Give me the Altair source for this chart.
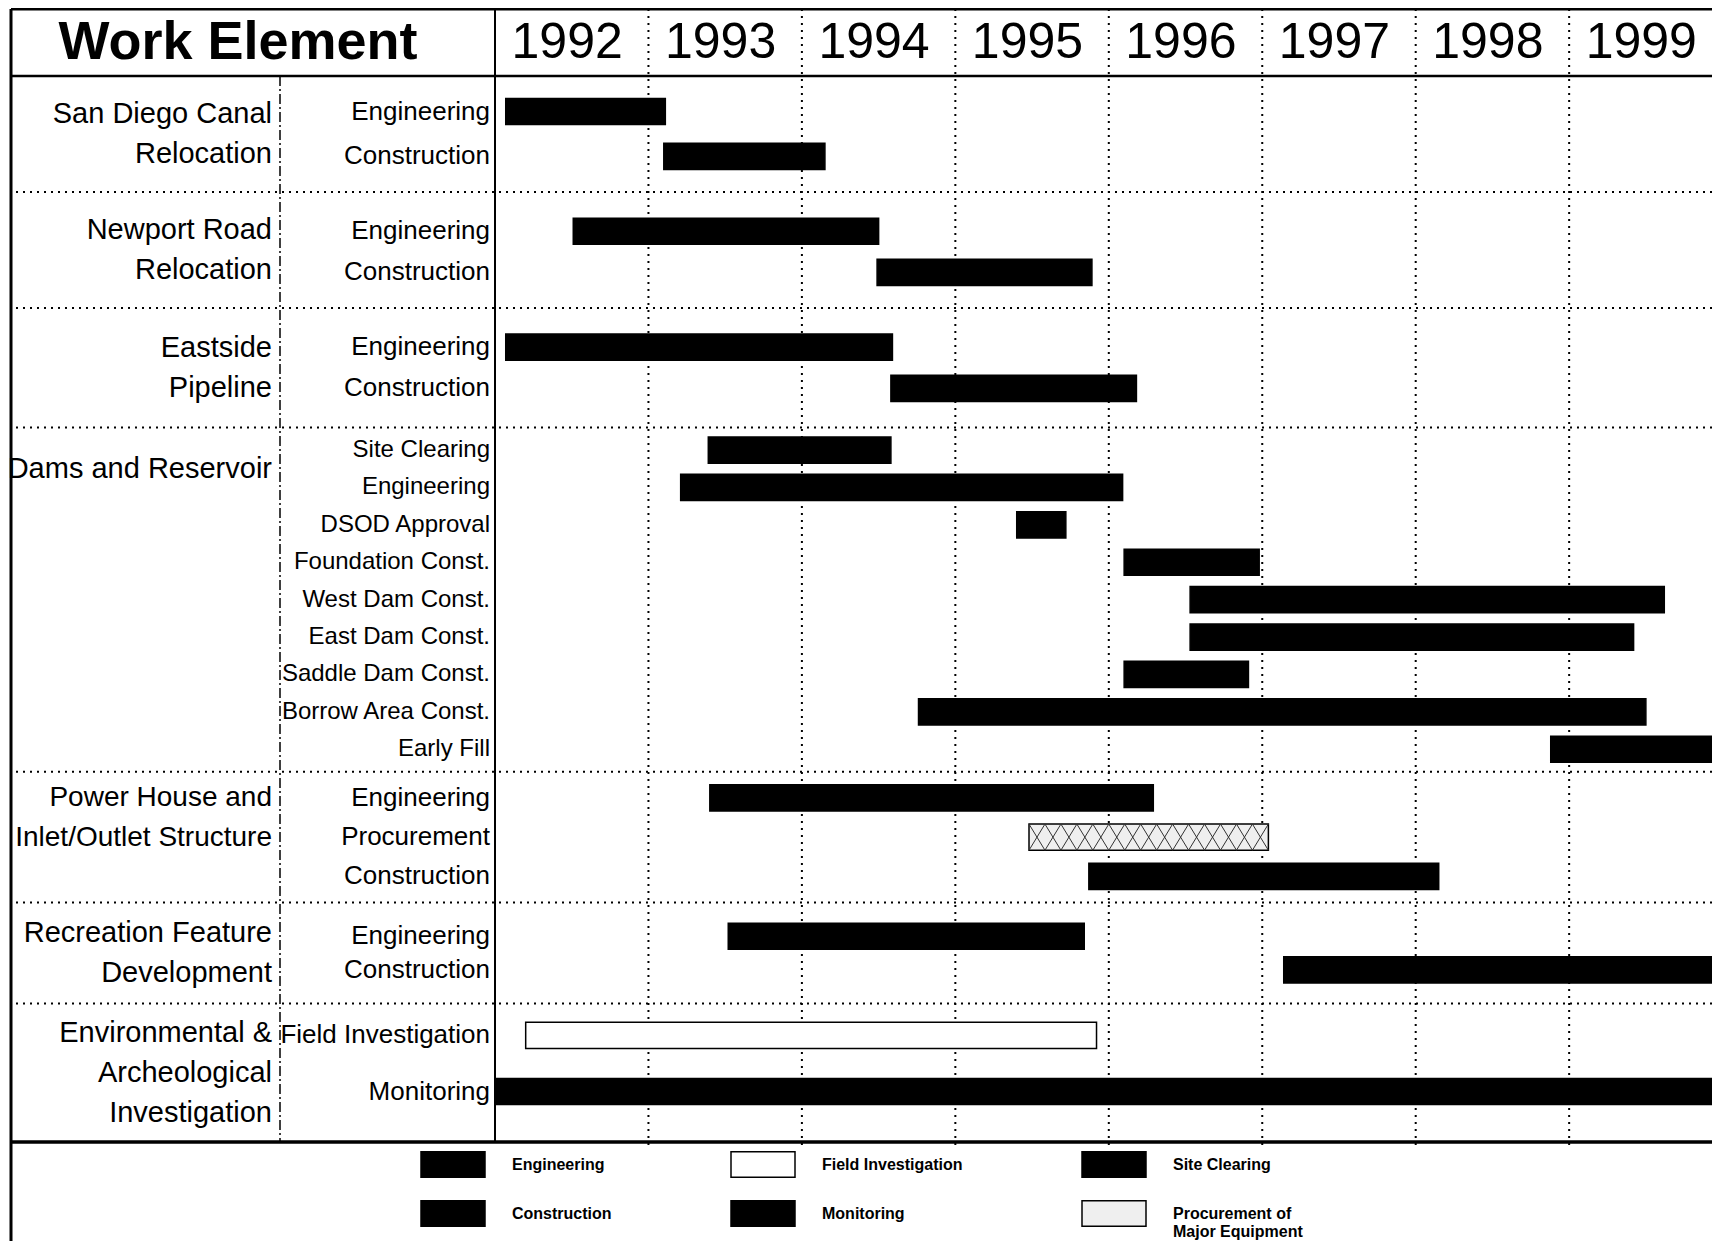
import altair as alt
import pandas as pd

# ---------------- data ----------------
GROUP_LABELS = [
    "San Diego Canal\nRelocation",
    "Newport Road\nRelocation",
    "Eastside\nPipeline",
    "Dams and Reservoir",
    "Power House and\nInlet/Outlet Structure",
    "Recreation Feature\nDevelopment",
    "Environmental &\nArcheological\nInvestigation",
]
TASK_GROUP = [0, 0, 1, 1, 2, 2, 3, 3, 3, 3, 3, 3, 3, 3, 3, 4, 4, 4, 5, 5, 6, 6]
TASK_NAMES = [
    "Engineering", "Construction",
    "Engineering", "Construction",
    "Engineering", "Construction",
    "Site Clearing", "Engineering", "DSOD Approval", "Foundation Const.",
    "West Dam Const.", "East Dam Const.", "Saddle Dam Const.",
    "Borrow Area Const.", "Early Fill",
    "Engineering", "Procurement", "Construction",
    "Engineering", "Construction",
    "Field Investigation", "Monitoring",
]
TASK_TYPES = [
    "Engineering", "Construction",
    "Engineering", "Construction",
    "Engineering", "Construction",
    "Site Clearing", "Engineering", "Engineering", "Construction",
    "Construction", "Construction", "Construction",
    "Construction", "Construction",
    "Engineering", "Procurement of Major Equipment", "Construction",
    "Engineering", "Construction",
    "Field Investigation", "Monitoring",
]
TASK_START = [1992.07, 1993.10, 1992.51, 1994.49, 1992.07, 1994.58,
              1993.39, 1993.21, 1995.40, 1996.10, 1996.53, 1996.53, 1996.10,
              1994.76, 1998.88, 1993.40, 1995.48, 1995.87, 1993.52, 1997.14,
              1992.20, 1992.00]
TASK_END = [1993.11, 1994.15, 1994.50, 1995.89, 1994.59, 1996.18,
            1994.58, 1996.09, 1995.72, 1996.98, 1999.62, 1999.42, 1996.91,
            1999.50, 2000.00, 1996.29, 1997.04, 1998.15, 1995.84, 2000.00,
            1995.92, 2000.00]
YEARS = [1992, 1993, 1994, 1995, 1996, 1997, 1998, 1999]
# legend entries (filled column by column: 2 rows x 3 columns)
LEGEND_ORDER = ["Engineering", "Construction", "Field Investigation",
                "Monitoring", "Site Clearing", "Procurement of Major Equipment"]
LEGEND_FILL = ["black", "black", "white", "black", "black", "#efefef"]

# ---------------- layout ----------------
W, H = 1217, 1066
PAD = {"left": 487, "top": 68, "right": 0, "bottom": 99}
X_MAX = 1992 + W / 153.45
GROUP_SPAN = [3.1, 3.1, 3.2, 9.2, 3.5, 2.7, 3.7]
ROW_STEP = [1.2, 1.1, 1.1, 1.0, 1.05, 0.9, 1.5]
ROW_LEAD = [0.95, 1.05, 1.05, 0.6, 0.7, 0.9, 0.85]
BAR_HALF = 0.35
TOTAL = sum(GROUP_SPAN)
UNIT_PX = H / TOTAL
GROUP_LINE_H = 40
GROUP_FS = [29, 29, 29, 29, 28, 29, 29]
TASK_FS = [24 if g == 3 else 26 for g in TASK_GROUP]

tops = []
acc = 0.0
for s in GROUP_SPAN:
    tops.append(acc)
    acc += s

row_y = []
seen = {}
for g in TASK_GROUP:
    i = seen.get(g, 0)
    seen[g] = i + 1
    row_y.append(tops[g] + ROW_LEAD[g] + ROW_STEP[g] * i)

tasks = pd.DataFrame({
    "name": TASK_NAMES,
    "type": TASK_TYPES,
    "start": TASK_START,
    "end": TASK_END,
    "y": row_y,
    "fs": TASK_FS,
})
tasks["ytop"] = tasks["y"] - BAR_HALF
tasks["ybot"] = tasks["y"] + BAR_HALF

gy = []
for g, lab in enumerate(GROUP_LABELS):
    first = TASK_GROUP.index(g)
    nlines = lab.count("\n") + 1
    ntasks = TASK_GROUP.count(g)
    if nlines < ntasks:
        anchor = (row_y[first] + row_y[first + 1]) / 2
    else:
        anchor = tops[g] + GROUP_SPAN[g] / 2
    gy.append(anchor - (nlines - 1) / 2 * GROUP_LINE_H / UNIT_PX)
group_df = pd.DataFrame({"label": GROUP_LABELS, "y": gy, "fs": GROUP_FS})

bounds_df = pd.DataFrame({"b": tops[1:]})
years_df = pd.DataFrame({"year": YEARS, "mid": [y + 0.47 for y in YEARS]})
vlines_df = pd.DataFrame({"year": YEARS[1:]})
left_df = pd.DataFrame({"year": [YEARS[0]]})
one = pd.DataFrame({"k": [0]})

# cross-hatch for the procurement bar
pi = TASK_TYPES.index("Procurement of Major Equipment")
x0, x1, yc = TASK_START[pi], TASK_END[pi], row_y[pi]
n = max(1, round((x1 - x0) / 0.104))
cw = (x1 - x0) / n
segs = []
for k in range(n):
    a = x0 + k * cw
    b = a + cw
    segs.append({"hx": a, "hx2": b, "hy": yc - BAR_HALF, "hy2": yc + BAR_HALF})
    segs.append({"hx": b, "hx2": a, "hy": yc - BAR_HALF, "hy2": yc + BAR_HALF})
hatch_df = pd.DataFrame(segs)

# ---------------- chart ----------------
XS = alt.Scale(domain=[1992, X_MAX], clamp=True, nice=False, zero=False)
YS = alt.Scale(domain=[0, TOTAL], reverse=True, nice=False, zero=False)
FONT = "Liberation Sans"

LEG = alt.Legend(
    title=None, orient="none", legendX=-75, legendY=1064, columns=3,
    columnPadding=118, rowPadding=0, clipHeight=49,
    symbolType="M-1,-0.4H1V0.4H-1Z", symbolSize=4096, symbolStrokeWidth=1.5,
    labelFont=FONT, labelFontWeight="bold", labelFontSize=16, labelOffset=26,
    labelColor="black", labelLimit=400,
    labelExpr="datum.label == 'Procurement of Major Equipment' ? ['Procurement of', 'Major Equipment'] : datum.label",
)

dotted = dict(color="black", strokeWidth=2, strokeDash=[2, 5])

seps = alt.Chart(bounds_df).mark_rule(**dotted).encode(
    y=alt.Y("b:Q", scale=YS, axis=None),
    x=alt.value(-479), x2=alt.value(W),
)
vlines = alt.Chart(vlines_df).mark_rule(**dotted).encode(
    x=alt.X("year:Q", scale=XS, axis=None),
    y=alt.value(-67), y2=alt.value(H + 4),
)
left_edge = alt.Chart(left_df).mark_rule(color="black", strokeWidth=2).encode(
    x=alt.X("year:Q", scale=XS, axis=None),
    y=alt.value(-67), y2=alt.value(H),
)
frame_left = alt.Chart(one).mark_rule(color="black", strokeWidth=3).encode(
    x=alt.value(-484), y=alt.value(-67), y2=alt.value(H + 99))
frame_top = alt.Chart(one).mark_rule(color="black", strokeWidth=3).encode(
    y=alt.value(-67), x=alt.value(-484), x2=alt.value(W))
header_bottom = alt.Chart(one).mark_rule(color="black", strokeWidth=2.5).encode(
    y=alt.value(0), x=alt.value(-484), x2=alt.value(W))
body_bottom = alt.Chart(one).mark_rule(color="black", strokeWidth=3.5).encode(
    y=alt.value(H), x=alt.value(-484), x2=alt.value(W))
col_sep = alt.Chart(one).mark_rule(color="black", strokeWidth=1.5,
                                   strokeDash=[10, 3, 2, 3]).encode(
    x=alt.value(-215), y=alt.value(0), y2=alt.value(H))

bars = alt.Chart(tasks).mark_rect(strokeWidth=1.5).encode(
    x=alt.X("start:Q", scale=XS, axis=None),
    x2="end:Q",
    y=alt.Y("ytop:Q", scale=YS, axis=None),
    y2="ybot:Q",
    fill=alt.Fill("type:N", scale=alt.Scale(domain=LEGEND_ORDER, range=LEGEND_FILL), legend=LEG),
    stroke=alt.Stroke("type:N", scale=alt.Scale(domain=LEGEND_ORDER, range=["black"] * 6), legend=LEG),
)
hatch = alt.Chart(hatch_df).mark_rule(color="#333333", strokeWidth=1).encode(
    x=alt.X("hx:Q", scale=XS, axis=None), x2="hx2:Q",
    y=alt.Y("hy:Q", scale=YS, axis=None), y2="hy2:Q",
)

task_text = alt.Chart(tasks).mark_text(
    align="right", baseline="middle", font=FONT, color="black"
).encode(
    x=alt.value(-5),
    y=alt.Y("y:Q", scale=YS, axis=None),
    text="name:N",
    size=alt.Size("fs:Q", scale=None, legend=None),
)
group_text = alt.Chart(group_df).mark_text(
    align="right", baseline="middle", font=FONT, color="black",
    lineBreak="\n", lineHeight=GROUP_LINE_H,
).encode(
    x=alt.value(-223),
    y=alt.Y("y:Q", scale=YS, axis=None),
    text="label:N",
    size=alt.Size("fs:Q", scale=None, legend=None),
)
title_text = alt.Chart(one).mark_text(
    align="center", baseline="middle", font=FONT, fontSize=54,
    fontWeight="bold", color="black", text="Work Element",
).encode(x=alt.value(-257), y=alt.value(-33))
year_text = alt.Chart(years_df).mark_text(
    align="center", baseline="middle", font=FONT, fontSize=50, color="black",
).encode(
    x=alt.X("mid:Q", scale=XS, axis=None),
    y=alt.value(-33),
    text="year:N",
)

chart = alt.layer(
    seps, vlines, left_edge, frame_left, frame_top, header_bottom, body_bottom,
    col_sep, bars, hatch, task_text, group_text, title_text, year_text,
).properties(
    width=W, height=H, padding=PAD,
    autosize=alt.AutoSizeParams(type="none"),
).configure_view(stroke=None)

chart.save("out.html", embed_options={"renderer": "svg", "actions": False})
